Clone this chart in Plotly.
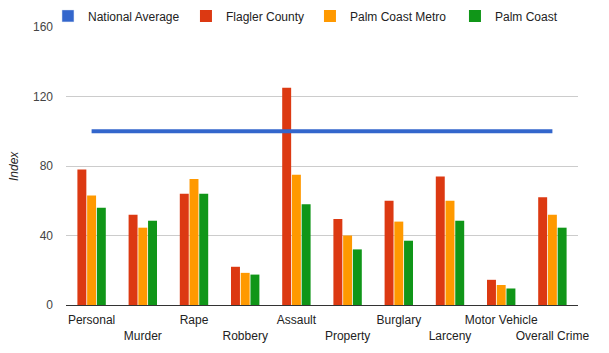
import plotly.graph_objects as go

categories = ["Personal", "Murder", "Rape", "Robbery", "Assault", "Property",
              "Burglary", "Larceny", "Motor Vehicle", "Overall Crime"]
national_avg = [100] * 10
flagler_county = [78, 52, 64, 22, 125, 49.5, 60, 74, 14.5, 62]
palm_coast_metro = [63, 44.5, 72.5, 18.5, 75, 40, 48, 60, 11.5, 52]
palm_coast = [56, 48.5, 64, 17.5, 58, 32, 37, 48.5, 9.5, 44.5]
y_ticks = [0, 40, 80, 120, 160]

tick_text = [c if i % 2 == 0 else " <br>" + c for i, c in enumerate(categories)]

FONT = "Arial, Liberation Sans, sans-serif"
fig = go.Figure()

# legend-only entry for National Average (square swatch), on hidden axis
fig.add_trace(go.Bar(x=[None], y=[None], name="National Average",
                     marker_color="#3366cc", xaxis="x2", showlegend=True,
                     legend="legend", hoverinfo="skip"))
for name, vals, col, lg in [("Flagler County", flagler_county, "#dc3912", "legend2"),
                            ("Palm Coast Metro", palm_coast_metro, "#ff9900", "legend3"),
                            ("Palm Coast", palm_coast, "#109618", "legend4")]:
    fig.add_trace(go.Bar(x=categories, y=vals, name=name, marker_color=col,
                         marker_line_width=0, legend=lg))
fig.add_trace(go.Scatter(x=categories, y=national_avg, mode="lines",
                         line=dict(color="#3366cc", width=4),
                         name="National Average", showlegend=False))

leg_common = dict(orientation="h", xanchor="left", y=1.04, yanchor="middle",
                  font=dict(size=12, color="#222222"), itemclick=False,
                  bgcolor="rgba(0,0,0,0)")
leg_x = [-0.0352, 0.2343, 0.4765, 0.7597]

fig.update_layout(
    width=609, height=353,
    margin=dict(l=66, r=31, t=27, b=48, autoexpand=False),
    paper_bgcolor="white", plot_bgcolor="white",
    font=dict(family=FONT, size=12, color="#222222"),
    barmode="group", bargap=0.43, bargroupgap=0.08,
    showlegend=True,
    legend=dict(x=leg_x[0], **leg_common),
    legend2=dict(x=leg_x[1], **leg_common),
    legend3=dict(x=leg_x[2], **leg_common),
    legend4=dict(x=leg_x[3], **leg_common),
    xaxis=dict(tickvals=categories, ticktext=tick_text, showgrid=False,
               showline=True, linecolor="#333333", linewidth=1, ticks="",
               tickangle=0, automargin=False, ticklabelstandoff=4,
               tickfont=dict(size=12, color="#222222"), zeroline=False,
               fixedrange=True),
    xaxis2=dict(overlaying="x", visible=False, range=[0, 1]),
    yaxis=dict(range=[0, 160], tickvals=y_ticks, showgrid=True,
               gridcolor="#cccccc", gridwidth=1, zeroline=False,
               tickfont=dict(size=12, color="#444444"), ticks="",
               ticklabelstandoff=12, automargin=False,
               fixedrange=True),
    annotations=[dict(text="<i>Index</i>", xref="paper", yref="paper",
                      x=-0.1016, y=0.5, xanchor="center", yanchor="middle",
                      textangle=-90, showarrow=False,
                      font=dict(size=12, color="#222222"))],
)

fig.write_html("out.html")
